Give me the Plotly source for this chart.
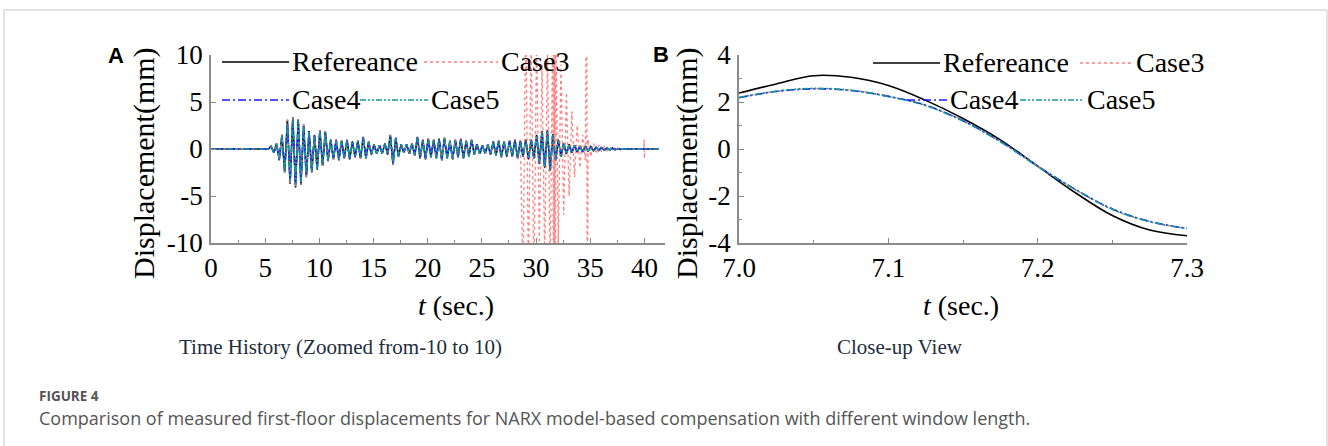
import numpy as np
import plotly.graph_objects as go

W, H = 1328, 446

# ---------------- Data ----------------
# Panel A: oscillation extremes, alternating +/- every 0.25 s from 5.55 s to 38.05 s
peak_times = np.round(np.arange(5.55, 38.06, 0.25), 2)

ref_peaks = [
    0.3, -0.4, 0.6, -1.2, 1.5, -2.5, 3.1, -3.7,
    3.4, -4.1, 3.2, -3.8, 2.6, -3.0, 1.9, -2.5,
    1.5, -2.2, 2.0, -1.8, 1.9, -1.3, 1.0, -1.1,
    1.0, -1.2, 0.9, -1.0, 1.0, -1.1, 0.8, -0.9,
    0.9, -1.0, 1.3, -1.0, 0.8, -0.6, 0.5, -0.5,
    0.4, -0.5, 0.6, -0.6, 1.5, -1.7, 1.2, -0.8,
    0.5, -0.4, 0.5, -0.5, 0.6, -0.7, 1.3, -1.0,
    1.0, -1.1, 1.1, -0.9, 1.0, -1.0, 1.1, -1.2,
    1.2, -1.0, 0.9, -1.1, 1.0, -0.9, 1.1, -1.0,
    0.9, -0.8, 1.0, -0.6, 0.5, -0.5, 0.4, -0.5,
    0.5, -0.6, 0.8, -0.7, 0.9, -0.9, 0.8, -0.8,
    0.9, -0.8, 1.0, -1.0, 0.9, -0.8, 1.0, -1.1,
    1.0, -1.0, 1.5, -1.6, 1.9, -2.0, 2.0, -2.3,
    1.6, -1.3, 1.0, -0.8, 0.6, -0.5, 0.5, -0.4,
    0.4, -0.35, 0.3, -0.3, 0.3, -0.25, 0.25, -0.2,
    0.2, -0.15, 0.15, -0.12, 0.1, -0.1, 0.08, -0.06,
    0.05, -0.04, 0.03,
]
case4_peaks = [
    0.3, -0.4, 0.5, -1.1, 1.4, -2.3, 2.6, -3.4,
    3.1, -3.7, 2.9, -3.5, 2.4, -2.8, 1.8, -2.3,
    1.4, -2.0, 1.8, -1.7, 1.7, -1.2, 0.9, -1.0,
    0.9, -1.1, 0.8, -0.9, 0.9, -1.0, 0.7, -0.8,
    0.8, -0.9, 1.2, -0.9, 0.7, -0.5, 0.5, -0.5,
    0.4, -0.5, 0.5, -0.5, 1.4, -1.5, 1.1, -0.7,
    0.5, -0.4, 0.5, -0.5, 0.5, -0.6, 1.2, -0.9,
    0.9, -1.0, 1.0, -0.8, 0.9, -0.9, 1.0, -1.1,
    1.1, -0.9, 0.8, -1.0, 0.9, -0.8, 1.0, -0.9,
    0.8, -0.7, 0.9, -0.5, 0.5, -0.5, 0.4, -0.4,
    0.5, -0.5, 0.7, -0.6, 0.8, -0.8, 0.7, -0.7,
    0.8, -0.7, 0.9, -0.9, 0.8, -0.7, 0.9, -1.0,
    0.9, -0.9, 1.4, -1.5, 1.8, -1.9, 1.9, -2.1,
    1.5, -1.2, 0.9, -0.7, 0.6, -0.5, 0.4, -0.4,
    0.4, -0.3, 0.3, -0.3, 0.3, -0.2, 0.2, -0.2,
    0.2, -0.15, 0.15, -0.1, 0.1, -0.1, 0.08, -0.06,
    0.05, -0.04, 0.03,
]
case5_peaks = [
    0.3, -0.4, 0.6, -1.1, 1.4, -2.4, 2.7, -3.4,
    3.2, -3.8, 3.0, -3.5, 2.4, -2.8, 1.8, -2.4,
    1.4, -2.1, 1.9, -1.7, 1.8, -1.2, 1.0, -1.0,
    0.9, -1.1, 0.9, -0.9, 0.9, -1.0, 0.8, -0.8,
    0.8, -0.9, 1.2, -1.0, 0.7, -0.6, 0.5, -0.5,
    0.4, -0.5, 0.6, -0.5, 1.4, -1.6, 1.1, -0.8,
    0.5, -0.4, 0.5, -0.5, 0.6, -0.6, 1.2, -1.0,
    0.9, -1.0, 1.0, -0.9, 0.9, -1.0, 1.0, -1.1,
    1.1, -1.0, 0.9, -1.0, 0.9, -0.9, 1.0, -1.0,
    0.8, -0.8, 0.9, -0.6, 0.5, -0.5, 0.4, -0.5,
    0.5, -0.5, 0.7, -0.7, 0.8, -0.8, 0.8, -0.7,
    0.8, -0.8, 0.9, -0.9, 0.8, -0.8, 0.9, -1.0,
    0.9, -1.0, 1.4, -1.5, 1.8, -1.9, 1.9, -2.2,
    1.5, -1.2, 0.9, -0.8, 0.6, -0.5, 0.4, -0.4,
    0.4, -0.3, 0.3, -0.3, 0.3, -0.2, 0.2, -0.2,
    0.2, -0.15, 0.15, -0.1, 0.1, -0.1, 0.08, -0.06,
    0.05, -0.04, 0.03,
]
quiet_start_t = [0.0, 5.3]
quiet_end_t = [38.3, 41.3]

# Case3 follows the reference until 28.3 s, then diverges
case3_split_t = 28.3
case3_tail_t = [28.55, 28.8, 29.05, 29.3, 29.55, 29.8, 30.05, 30.3, 30.55, 30.8,
                31.05, 31.3, 31.55, 31.62, 31.66, 31.7, 31.74, 31.78, 31.82,
                32.05, 32.3, 32.55, 32.8, 33.05, 33.3, 33.55, 33.8, 34.05, 34.3,
                34.55, 34.68, 34.72, 34.8, 35.05, 35.3, 35.55, 35.8, 36.05, 36.3,
                36.55, 36.8, 37.05, 37.3, 37.6, 39.95, 39.97, 40.0, 40.03, 41.3]
case3_tail_y = [1.0, -14, 15, -14, 13, -15, 12, -10, 9, -12,
                11, -13, 14, -40, 40, -40, 40, -40, 14,
                -10, 9, -7, 6, -5, 4, -3, 2.5, -2, 1.5,
                -1.2, 30, -30, 1.0, -0.8, 0.6, -0.5, 0.4, -0.3, 0.25,
                -0.2, 0.15, -0.1, 0.05, 0.0, 0.0, 1.0, -1.0, 0.0, 0.0]

# Panel B: close-up 7.0 - 7.3 s
tb = [7.0, 7.025, 7.05, 7.075, 7.1, 7.125, 7.15, 7.175, 7.2, 7.225, 7.25, 7.275, 7.3]
ref_b = [2.38, 2.77, 3.12, 3.05, 2.70, 2.07, 1.30, 0.39, -0.73, -1.85, -2.83, -3.45, -3.69]
case3_b = [2.20, 2.46, 2.57, 2.50, 2.25, 1.87, 1.22, 0.33, -0.72, -1.72, -2.58, -3.10, -3.38]
case4_b = [2.18, 2.45, 2.56, 2.49, 2.24, 1.86, 1.20, 0.32, -0.73, -1.71, -2.55, -3.08, -3.38]
case5_b = [2.19, 2.46, 2.58, 2.50, 2.23, 1.85, 1.19, 0.31, -0.74, -1.72, -2.56, -3.09, -3.39]

# Tick labels (hyphen-minus as in the figure)
xA_ticks = [0, 5, 10, 15, 20, 25, 30, 35, 40]
yA_ticks = [-10, -5, 0, 5, 10]
yA_labels = ["-10", "-5", "0", "5", "10"]
xB_ticks = [7.0, 7.1, 7.2, 7.3]
xB_labels = ["7.0", "7.1", "7.2", "7.3"]
yB_ticks = [-4, -2, 0, 2, 4]
yB_labels = ["-4", "-2", "0", "2", "4"]

series_names = ["Refereance", "Case3", "Case4", "Case5"]
series_colors = ["#000000", "#ff7f7f", "#1a1aff", "#119999"]
series_dash = ["solid", "dot", "8px,3px,2px,3px", "6px,2px,2px,2px,2px,2px"]
series_width = [1.6, 1.3, 1.6, 1.6]

# ---------------- Build ----------------
def full(peaks):
    t = list(quiet_start_t) + list(peak_times) + list(quiet_end_t)
    y = [0.0, 0.0] + list(peaks) + [0.0, 0.0]
    return t, y

ref_t, ref_y = full(ref_peaks)
c4_t, c4_y = full(case4_peaks)
c5_t, c5_y = full(case5_peaks)
c3_t = [t for t in ref_t if t <= case3_split_t] + case3_tail_t
c3_y = [y for t, y in zip(ref_t, ref_y) if t <= case3_split_t] + case3_tail_y

def px(x):
    return x / W

def py(y):
    return 1 - y / H

fig = go.Figure()
dataA = [(ref_t, ref_y), (c3_t, c3_y), (c4_t, c4_y), (c5_t, c5_y)]
dataB = [ref_b, case3_b, case4_b, case5_b]
for i, (t, y) in enumerate(dataA):
    fig.add_trace(go.Scatter(x=t, y=y, mode="lines", name=series_names[i], showlegend=False,
                             line=dict(color=series_colors[i], dash=series_dash[i], width=series_width[i]),
                             xaxis="x", yaxis="y"))
for i, y in enumerate(dataB):
    fig.add_trace(go.Scatter(x=tb, y=y, mode="lines", name=series_names[i], showlegend=False,
                             line=dict(color=series_colors[i], dash=series_dash[i], width=series_width[i],
                                       shape="spline"),
                             xaxis="x2", yaxis="y2"))

serif = "Liberation Serif, Times New Roman, serif"
axcol = "#8a8a8a"
common = dict(showline=True, linecolor=axcol, linewidth=1.5, ticks="inside", ticklen=5,
              tickcolor=axcol, tickwidth=1, showgrid=False, zeroline=False, automargin=False,
              tickfont=dict(family=serif, size=27, color="#000"), mirror=False)

fig.update_layout(
    template="none",
    width=W, height=H, margin=dict(l=0, r=0, t=0, b=0, pad=0),
    paper_bgcolor="white", plot_bgcolor="white",
    xaxis=dict(domain=[px(211), px(665)], range=[0, 41.9], tickvals=xA_ticks,
               minor=dict(tickvals=[2.5, 7.5, 12.5, 17.5, 22.5, 27.5, 32.5, 37.5], ticks="inside",
                          ticklen=3, tickcolor=axcol),
               anchor="y", ticklabelstandoff=0, **common),
    yaxis=dict(domain=[py(243), py(55)], range=[-10, 10], tickvals=yA_ticks, ticktext=yA_labels,
               anchor="x", ticklabelstandoff=1, **common),
    xaxis2=dict(domain=[px(739), px(1187)], range=[7.0, 7.3], tickvals=xB_ticks, ticktext=xB_labels,
                minor=dict(tickvals=[7.05, 7.15, 7.25], ticks="inside", ticklen=3, tickcolor=axcol),
                anchor="y2", ticklabelstandoff=0, **common),
    yaxis2=dict(domain=[py(243), py(55)], range=[-4, 4], tickvals=yB_ticks, ticktext=yB_labels,
                minor=dict(tickvals=[-3, -1, 1, 3], ticks="inside", ticklen=3, tickcolor=axcol),
                anchor="x2", ticklabelstandoff=1, **common),
)

ann = []
def text(x, y, s, size, family=serif, xanchor="center", angle=0, color="#000", bold=False):
    if bold:
        s = "<b>" + s + "</b>"
    ann.append(dict(x=px(x), y=py(y), xref="paper", yref="paper", text=s, showarrow=False,
                    xanchor=xanchor, yanchor="middle", textangle=angle,
                    font=dict(family=family, size=size, color=color)))

shapes = []
def legline(x0, x1, y, i):
    shapes.append(dict(type="line", xref="paper", yref="paper", x0=px(x0), x1=px(x1), y0=py(y), y1=py(y),
                       line=dict(color=series_colors[i], dash=series_dash[i], width=series_width[i])))

# Panel A legend
legline(222, 289, 62, 0); text(290, 62, series_names[0], 28, xanchor="left")
legline(424, 498, 62, 1); text(499, 62, series_names[1], 28, xanchor="left")
legline(222, 289, 100, 2); text(290, 100, series_names[2], 28, xanchor="left")
legline(360, 428, 100, 3); text(429, 100, series_names[3], 28, xanchor="left")
# Panel B legend
legline(873, 940, 63, 0); text(941, 63, series_names[0], 28, xanchor="left")
legline(1080, 1133, 63, 1); text(1134, 63, series_names[1], 28, xanchor="left")
legline(907, 947, 100, 2); text(948, 100, series_names[2], 28, xanchor="left")
legline(1020, 1084, 100, 3); text(1085, 100, series_names[3], 28, xanchor="left")

# Axis titles, subtitles, panel letters
text(144, 163, "Displacement(mm)", 30, angle=-90)
text(687, 163, "Displacement(mm)", 30, angle=-90)
text(456, 305, "<i>t</i> (sec.)", 28)
text(961, 305, "<i>t</i> (sec.)", 28)
text(340, 347, "Time History (Zoomed from-10 to 10)", 21, color="#1f2d3d")
text(900, 347, "Close-up View", 21, color="#1f2d3d")
text(116, 55, "A", 22, family="Liberation Sans, Arial, sans-serif", bold=True)
text(661, 54, "B", 22, family="Liberation Sans, Arial, sans-serif", bold=True)
# Caption
text(37, 396, "FIGURE 4", 13.5, family="Open Sans, Noto Sans, sans-serif", xanchor="left", color="#555", bold=True)
text(37, 418, "Comparison of measured first-floor displacements for NARX model-based compensation with different window length.",
     18, family="Open Sans, Noto Sans, sans-serif", xanchor="left", color="#555")

# Figure frame
shapes.append(dict(type="rect", xref="paper", yref="paper", x0=px(4), x1=px(1327), y0=py(470), y1=py(10),
                   line=dict(color="#c8c8c8", width=1), fillcolor="rgba(0,0,0,0)", layer="below"))

fig.update_layout(annotations=ann, shapes=shapes)
fig.write_html("out.html", config={"displayModeBar": False},
               post_script="document.body.style.margin='0px';")
